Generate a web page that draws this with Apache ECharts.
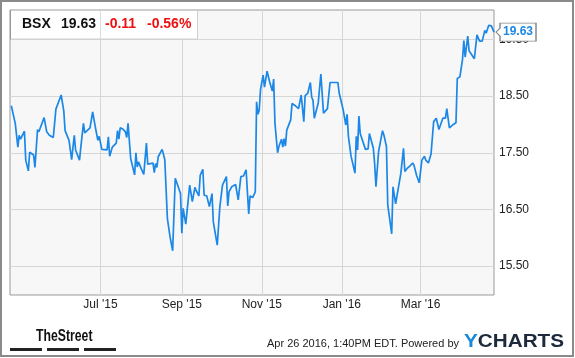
<!DOCTYPE html>
<html><head><meta charset="utf-8">
<script src="https://cdn.jsdelivr.net/npm/echarts@6/dist/echarts.min.js"></script>
<style>html,body{margin:0;padding:0;background:#fff}#c{width:575px;height:358px}</style>
</head><body><div id="c"></div>
<script>
const dates = [
'2015-04-24','2015-04-27','2015-04-29','2015-04-30','2015-05-01','2015-05-04','2015-05-05','2015-05-07','2015-05-08','2015-05-11','2015-05-12','2015-05-13','2015-05-14','2015-05-15','2015-05-19','2015-05-21','2015-05-23','2015-05-26','2015-05-28','2015-05-29',
'2015-06-01','2015-06-03','2015-06-04','2015-06-07','2015-06-09','2015-06-11','2015-06-12','2015-06-15','2015-06-16','2015-06-17','2015-06-18','2015-06-19','2015-06-23','2015-06-24','2015-06-25','2015-06-27','2015-06-29','2015-06-30',
'2015-07-02','2015-07-06','2015-07-07','2015-07-08','2015-07-09','2015-07-10','2015-07-13','2015-07-14','2015-07-15','2015-07-16','2015-07-18','2015-07-20','2015-07-21','2015-07-22','2015-07-24','2015-07-27','2015-07-28','2015-07-29','2015-07-30',
'2015-08-01','2015-08-03','2015-08-04','2015-08-05','2015-08-06','2015-08-08','2015-08-10','2015-08-11','2015-08-12','2015-08-13','2015-08-14','2015-08-17','2015-08-18','2015-08-19','2015-08-21','2015-08-23','2015-08-25','2015-08-27','2015-08-28','2015-08-31',
'2015-09-01','2015-09-02','2015-09-03','2015-09-04','2015-09-07','2015-09-09','2015-09-11','2015-09-12','2015-09-14','2015-09-15','2015-09-16','2015-09-17','2015-09-18','2015-09-20','2015-09-22','2015-09-24','2015-09-25','2015-09-28','2015-09-30',
'2015-10-02','2015-10-05','2015-10-06','2015-10-07','2015-10-08','2015-10-09','2015-10-12','2015-10-14','2015-10-16','2015-10-18','2015-10-20','2015-10-22','2015-10-23','2015-10-25','2015-10-27','2015-10-28','2015-10-29','2015-10-30','2015-10-31',
'2015-11-02','2015-11-03','2015-11-05','2015-11-07','2015-11-09','2015-11-10','2015-11-11','2015-11-13','2015-11-14','2015-11-16','2015-11-17','2015-11-18','2015-11-19','2015-11-20','2015-11-23','2015-11-24','2015-11-26','2015-11-29',
'2015-12-01','2015-12-03','2015-12-04','2015-12-06','2015-12-07','2015-12-08','2015-12-09','2015-12-10','2015-12-11','2015-12-14','2015-12-16','2015-12-18','2015-12-21','2015-12-23','2015-12-25','2015-12-29','2015-12-30',
'2016-01-02','2016-01-04','2016-01-05','2016-01-06','2016-01-08','2016-01-11','2016-01-12','2016-01-13','2016-01-14','2016-01-15','2016-01-19','2016-01-21','2016-01-22','2016-01-25','2016-01-26','2016-01-27','2016-01-29',
'2016-02-01','2016-02-02','2016-02-04','2016-02-05','2016-02-08','2016-02-09','2016-02-11','2016-02-15','2016-02-17','2016-02-18','2016-02-20','2016-02-22','2016-02-24','2016-02-25','2016-02-27','2016-02-29',
'2016-03-02','2016-03-04','2016-03-05','2016-03-07','2016-03-09','2016-03-11','2016-03-13','2016-03-15','2016-03-16','2016-03-18','2016-03-20','2016-03-21','2016-03-23','2016-03-26','2016-03-28','2016-03-29','2016-03-31',
'2016-04-02','2016-04-03','2016-04-04','2016-04-06','2016-04-07','2016-04-08','2016-04-11','2016-04-13','2016-04-15','2016-04-17','2016-04-19','2016-04-20','2016-04-22','2016-04-24','2016-04-26'
];
const prices = [
18.33,18.02,17.60,17.81,17.74,17.88,17.37,17.18,17.51,17.46,17.24,17.22,17.91,17.87,18.12,17.87,17.81,17.77,18.27,18.27,
18.52,18.24,17.89,17.72,17.38,17.81,17.55,17.37,17.60,17.60,18.02,17.85,17.94,17.94,18.22,17.96,17.72,17.79,
17.56,17.55,17.78,17.44,17.46,17.60,17.67,17.89,17.74,17.94,17.92,17.87,17.77,18.02,17.40,17.11,17.50,17.25,17.34,
17.22,17.12,17.09,17.67,17.30,17.31,17.32,17.15,17.31,17.24,17.43,17.56,17.55,17.38,16.34,16.02,15.77,17.05,17.07,16.78,
16.08,16.52,16.54,16.24,16.93,16.64,16.89,16.83,16.74,17.10,17.11,17.21,16.75,16.74,16.55,16.78,16.28,15.87,16.55,
16.93,17.08,16.56,16.81,16.78,16.90,16.94,16.67,17.08,17.09,17.20,16.42,16.74,16.71,16.81,18.40,18.18,18.25,18.62,
18.87,18.66,18.94,18.75,18.59,18.80,18.02,17.50,17.61,17.74,17.60,17.75,17.62,17.90,18.08,18.37,18.34,18.28,
18.52,18.05,18.51,18.55,18.58,18.74,18.48,18.43,18.11,18.38,18.89,18.20,18.28,18.74,18.74,18.74,18.55,
18.26,17.99,18.18,17.79,17.44,17.14,17.79,17.55,18.15,17.84,17.56,17.57,17.84,17.58,17.31,16.90,17.52,
17.89,17.82,17.61,16.58,16.07,16.90,16.60,17.14,17.58,17.17,17.23,17.27,17.32,17.28,17.10,16.97,
17.37,17.44,17.37,17.32,17.48,18.05,18.11,17.91,17.89,18.11,18.11,18.28,17.94,18.00,18.03,18.81,18.84,
19.15,19.48,19.19,19.56,19.30,19.28,19.16,19.58,19.47,19.47,19.66,19.61,19.75,19.74,19.63
];
const xTickDates = ['2015-07-01','2015-09-01','2015-11-01','2016-01-01','2016-03-01'];
const xTickLabels = ["Jul '15","Sep '15","Nov '15","Jan '16","Mar '16"];
const yTicks = [15.5, 16.5, 17.5, 18.5, 19.5];
const xMin = '2015-04-23', xMax = '2016-04-26';
const yMin = 14.99, yMax = 20.02;
const ticker = 'BSX', lastPrice = '19.63', change = '-0.11', changePct = '-0.56%';
const footerText = 'Apr 26 2016, 1:40PM EDT. Powered by';

const FONT = '"Liberation Sans", Arial, sans-serif';
const toTs = s => { const p = s.split('-'); return new Date(+p[0], +p[1] - 1, +p[2]).getTime(); };
const seriesData = dates.map((d, i) => [toTs(d), prices[i]]);
const xTickTs = xTickDates.map(toTs);
const last = seriesData[seriesData.length - 1];

const chart = echarts.init(document.getElementById('c'), null, {renderer: 'canvas'});
chart.setOption({
  animation: false,
  backgroundColor: '#ffffff',
  grid: {left: 10, right: 81, top: 10, bottom: 63, show: true, backgroundColor: '#f7f7f7',
         borderColor: '#999999', borderWidth: 1, containLabel: false, outerBoundsMode: 'none'},
  xAxis: {
    type: 'value', min: toTs(xMin), max: toTs(xMax),
    axisLine: {show: false},
    axisTick: {show: false, customValues: xTickTs},
    splitLine: {show: true, lineStyle: {color: '#d6d6d6', width: 1}},
    axisLabel: {customValues: xTickTs, color: '#222', fontSize: 12, fontFamily: FONT, margin: 4,
      formatter: v => { const i = xTickTs.indexOf(v); return i >= 0 ? xTickLabels[i] : ''; }}
  },
  yAxis: {
    type: 'value', position: 'right', min: yMin, max: yMax,
    axisLine: {show: false},
    axisTick: {show: false, customValues: yTicks},
    splitLine: {show: true, lineStyle: {color: '#d6d6d6', width: 1}},
    axisLabel: {customValues: yTicks, color: '#222', fontSize: 12, fontFamily: FONT, margin: 5,
      formatter: v => Number(v).toFixed(2)}
  },
  series: [{
    type: 'line', data: seriesData, showSymbol: false, symbol: 'none',
    lineStyle: {color: '#1b87e6', width: 1.7}, itemStyle: {color: '#1b87e6'},
    markPoint: {
      symbol: 'path://M0,9 L4,5 L4,0 L40,0 L40,18 L4,18 L4,13 Z',
      symbolSize: [40, 18], symbolKeepAspect: false, symbolOffset: [22, 0],
      itemStyle: {color: '#ffffff', borderColor: '#888888', borderWidth: 1},
      label: {show: true, position: 'inside', offset: [2, 0], color: '#1b87e6', fontWeight: 'bold',
              fontSize: 12, fontFamily: FONT, formatter: p => Number(p.value).toFixed(2)},
      z: 10,
      data: [{coord: last, value: last[1]}]
    }
  }],
  graphic: [
    {type: 'rect', shape: {x: 1, y: 1, width: 572, height: 355}, style: {fill: 'none', stroke: '#8a8a8a', lineWidth: 2}, z: 100},
    {type: 'rect', shape: {x: 10.5, y: 10.5, width: 187, height: 28.5}, style: {fill: '#ffffff', stroke: '#cfcfcf', lineWidth: 1}, z: 50},
    {type: 'line', shape: {x1: 100.5, y1: 10.5, x2: 100.5, y2: 39}, style: {stroke: '#dcdcdc', lineWidth: 1}, z: 51},
    {type: 'line', shape: {x1: 10.5, y1: 10, x2: 10.5, y2: 39.5}, style: {stroke: '#999999', lineWidth: 1}, z: 51},
    {type: 'text', x: 22, y: 24, z: 52, style: {text: ticker, font: 'bold 14px ' + FONT, fill: '#111', verticalAlign: 'middle'}},
    {type: 'text', x: 61, y: 24, z: 52, style: {text: lastPrice, font: 'bold 14px ' + FONT, fill: '#111', verticalAlign: 'middle'}},
    {type: 'text', x: 105, y: 24, z: 52, style: {text: change, font: 'bold 14px ' + FONT, fill: '#ee1111', verticalAlign: 'middle'}},
    {type: 'text', x: 147, y: 24, z: 52, style: {text: changePct, font: 'bold 14px ' + FONT, fill: '#ee1111', verticalAlign: 'middle'}},
    {type: 'text', x: 36, y: 336, scaleX: 0.72, z: 52, style: {text: 'TheStreet', font: 'bold 17px ' + FONT, fill: '#111', verticalAlign: 'middle'}},
    {type: 'rect', shape: {x: 10, y: 348, width: 32, height: 3}, style: {fill: '#222'}, z: 52},
    {type: 'rect', shape: {x: 47, y: 348, width: 32, height: 3}, style: {fill: '#222'}, z: 52},
    {type: 'rect', shape: {x: 84, y: 348, width: 32, height: 3}, style: {fill: '#222'}, z: 52},
    {type: 'text', x: 459, y: 344, z: 52, style: {text: footerText, font: '11px ' + FONT, fill: '#222', align: 'right', verticalAlign: 'middle'}},
    {type: 'text', x: 464, y: 342, scaleX: 1.15, z: 52, style: {
      text: '{y|Y}{c|CHARTS}', verticalAlign: 'middle',
      rich: {y: {font: 'bold 18px ' + FONT, fill: '#1a8ad8', color: '#1a8ad8'}, c: {font: 'bold 18px ' + FONT, fill: '#1c2a3c', color: '#1c2a3c'}}}}
  ]
});
</script></body></html>
